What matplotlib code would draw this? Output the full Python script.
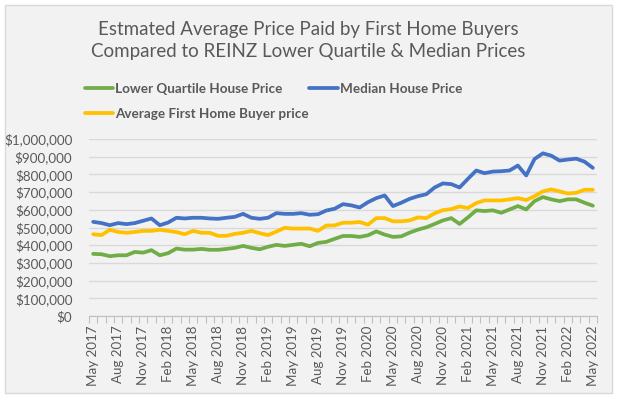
import matplotlib
matplotlib.use("Agg")
import matplotlib.pyplot as plt
from matplotlib.patches import Rectangle
from matplotlib.ticker import FuncFormatter, FixedLocator

plt.rcParams['font.family'] = ['Lato', 'DejaVu Sans']

months = ["May 2017", "Jun 2017", "Jul 2017", "Aug 2017", "Sep 2017", "Oct 2017", "Nov 2017", "Dec 2017",
          "Jan 2018", "Feb 2018", "Mar 2018", "Apr 2018", "May 2018", "Jun 2018", "Jul 2018", "Aug 2018",
          "Sep 2018", "Oct 2018", "Nov 2018", "Dec 2018", "Jan 2019", "Feb 2019", "Mar 2019", "Apr 2019",
          "May 2019", "Jun 2019", "Jul 2019", "Aug 2019", "Sep 2019", "Oct 2019", "Nov 2019", "Dec 2019",
          "Jan 2020", "Feb 2020", "Mar 2020", "Apr 2020", "May 2020", "Jun 2020", "Jul 2020", "Aug 2020",
          "Sep 2020", "Oct 2020", "Nov 2020", "Dec 2020", "Jan 2021", "Feb 2021", "Mar 2021", "Apr 2021",
          "May 2021", "Jun 2021", "Jul 2021", "Aug 2021", "Sep 2021", "Oct 2021", "Nov 2021", "Dec 2021",
          "Jan 2022", "Feb 2022", "Mar 2022", "Apr 2022", "May 2022"]

lower_quartile = [351, 349, 338, 343, 343, 362, 358, 372, 343, 355, 381, 375, 375, 379, 374, 374,
                  379, 385, 396, 385, 377, 391, 402, 396, 402, 408, 394, 413, 419, 436, 452, 452,
                  447, 456, 478, 460, 447, 450, 471, 488, 501, 520, 540, 553, 520, 557, 597, 593,
                  597, 583, 602, 621, 602, 649, 672, 659, 649, 659, 659, 640, 623]
lower_quartile = [v * 1000 for v in lower_quartile]

median = [532, 525, 513, 525, 519, 525, 538, 551, 513, 528, 555, 551, 555, 555, 551, 549,
          555, 560, 577, 555, 549, 555, 581, 577, 577, 581, 572, 575, 596, 606, 632, 625,
          613, 643, 666, 681, 621, 640, 662, 677, 688, 726, 749, 745, 726, 775, 822, 807,
          816, 818, 822, 850, 794, 887, 919, 906, 878, 884, 889, 872, 837]
median = [v * 1000 for v in median]

first_home = [462, 457, 487, 475, 470, 475, 481, 481, 487, 481, 474, 462, 481, 470, 470, 453,
              453, 464, 470, 481, 468, 457, 477, 498, 494, 494, 494, 481, 511, 512, 527, 527,
              531, 516, 553, 553, 535, 535, 540, 557, 553, 580, 598, 604, 619, 610, 638, 653,
              653, 653, 659, 666, 655, 677, 704, 715, 704, 692, 696, 713, 713]
first_home = [v * 1000 for v in first_home]

series_names = ["Lower Quartile House Price", "Median House Price", "Average First Home Buyer price"]
colors = ["#70AD47", "#4472C4", "#FFC000"]

title = "Estmated Average Price Paid by First Home Buyers\nCompared to REINZ Lower Quartile & Median Prices"

text_color = "#595959"
bg = "#F2F2F2"

fig = plt.figure(figsize=(6.17, 3.98), dpi=100)
fig.patch.set_facecolor("white")
frame = Rectangle((4.5 / 617, 5 / 398), 607 / 617, 388.5 / 398, transform=fig.transFigure,
                  facecolor=bg, edgecolor="#D9D9D9", linewidth=1.0, zorder=-5)
fig.add_artist(frame)

ax = fig.add_axes([89 / 617, 82 / 398, 508 / 617, 177 / 398])
ax.set_facecolor("none")

x = list(range(len(months)))
lines = []
for vals, name, c in zip([lower_quartile, median, first_home], series_names, colors):
    ln, = ax.plot(x, vals, color=c, linewidth=2.7, label=name, solid_capstyle="round",
                  solid_joinstyle="round", zorder=3)
    lines.append(ln)

ax.set_xlim(-0.5, len(months) - 0.5)
ax.set_ylim(0, 1000000)
ax.set_yticks(range(0, 1000001, 100000))
ax.yaxis.set_major_formatter(FuncFormatter(lambda v, p: "$0" if v == 0 else "${:,.0f}".format(v)))
ax.grid(axis="y", color="#D9D9D9", linewidth=1.0, zorder=0)
ax.tick_params(axis="y", length=0, labelsize=9.6, labelcolor=text_color, pad=12)

ax.set_xticks(x[::3])
ax.set_xticklabels(months[::3], rotation=90, fontsize=9.6, color=text_color)
ax.xaxis.set_minor_locator(FixedLocator([i - 0.5 for i in range(len(months) + 1)]))
ax.tick_params(axis="x", which="major", length=0, pad=7)
ax.tick_params(axis="x", which="minor", length=5, color="#BFBFBF", width=0.8)

for s in ["top", "right", "left"]:
    ax.spines[s].set_visible(False)
ax.spines["bottom"].set_color("#BFBFBF")

fig.text(0.5, 1 - 40.5 / 398, title, ha="center", va="center", fontsize=13.5, color=text_color,
         linespacing=1.42)

leg1 = fig.legend(handles=[lines[0], lines[1]], loc="center left", bbox_to_anchor=(78 / 617, 1 - 89 / 398),
                  ncol=2, frameon=False, handlelength=2.1, handletextpad=0.15,
                  columnspacing=2.0, borderpad=0.0, prop={"weight": "bold", "size": 9.7})
for t in leg1.get_texts():
    t.set_color(text_color)
leg2 = fig.legend(handles=[lines[2]], loc="center left", bbox_to_anchor=(78 / 617, 1 - 114 / 398),
                  frameon=False, handlelength=2.1, handletextpad=0.15, borderpad=0.0,
                  prop={"weight": "bold", "size": 9.7})
for t in leg2.get_texts():
    t.set_color(text_color)

fig.savefig("out.png", dpi=100, facecolor=fig.get_facecolor())
